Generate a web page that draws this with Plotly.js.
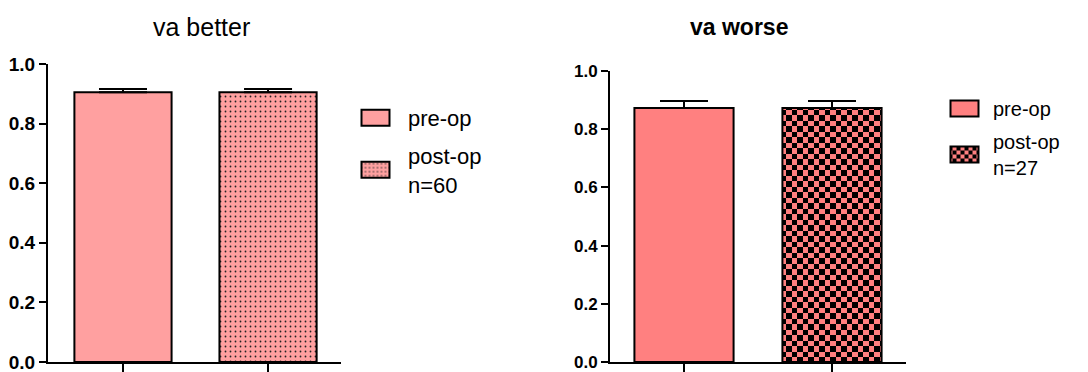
<!DOCTYPE html>
<html>
<head>
<meta charset="utf-8">
<script src="https://cdn.plot.ly/plotly-3.0.1.min.js"></script>
<style>html,body{margin:0;padding:0;background:#fff;}#chart{width:1088px;height:372px;}</style>
</head>
<body>
<div id="chart"></div>
<script>
// ---- data ----
const categories = ['pre-op', 'post-op'];
const legendNamesBetter = ['pre-op', 'post-op<br>n=60'];
const legendNamesWorse = ['pre-op', 'post-op<br>n=27'];
const betterMeans = [0.905, 0.905];
const betterErr = [0.011, 0.011];
const worseMeans = [0.873, 0.873];
const worseErr = [0.024, 0.024];
const yTicks = [0, 0.2, 0.4, 0.6, 0.8, 1.0];
const titles = ['va better', 'va worse'];

const colBetter = '#FFA0A0';
const colWorse = '#FF8080';
const FONT = 'Liberation Sans, Arial, sans-serif';

function barTrace(i, means, errs, names, color, pattern, xa, ya, legend, grp) {
  return {
    type: 'bar',
    x: [categories[i]],
    y: [means[i]],
    name: names[i],
    legendgroup: grp,
    xaxis: xa, yaxis: ya, legend: legend,
    width: 0.67,
    marker: {color: color, line: {color: '#000', width: 2}, pattern: pattern},
    error_y: {type: 'data', array: [errs[i]], arrayminus: [0], symmetric: false,
              color: '#000', thickness: 2, width: 24},
    hoverinfo: 'skip'
  };
}

const noPat = {shape: ''};
const dotPat = {shape: '.', fgcolor: '#222', bgcolor: colBetter, size: 5, solidity: 0.1, fillmode: 'replace'};
const checkPat = {shape: '.', fgcolor: '#000', bgcolor: colWorse, size: 11, solidity: 0.3, fillmode: 'replace'};

const data = [
  barTrace(0, betterMeans, betterErr, legendNamesBetter, colBetter, noPat, 'x', 'y', 'legend', 'a'),
  barTrace(1, betterMeans, betterErr, legendNamesBetter, colBetter, dotPat, 'x', 'y', 'legend', 'b'),
  barTrace(0, worseMeans, worseErr, legendNamesWorse, colWorse, noPat, 'x2', 'y2', 'legend2', 'c'),
  barTrace(1, worseMeans, worseErr, legendNamesWorse, colWorse, checkPat, 'x2', 'y2', 'legend2', 'd')
];

function xax(domain, range) {
  return {domain: domain, range: range, type: 'category', categoryorder: 'array', categoryarray: categories,
    showticklabels: false, ticks: 'outside', ticklen: 8, tickwidth: 2, tickcolor: '#000',
    showline: true, linecolor: '#000', linewidth: 2, showgrid: false, zeroline: false, fixedrange: true};
}
function yax(domain, fs, anchor) {
  return {domain: domain, range: [0, 1], anchor: anchor, tickvals: yTicks, tickformat: '.1f',
    ticks: 'outside', ticklen: 7, tickwidth: 2, tickcolor: '#000', ticklabeloverflow: 'allow',
    tickfont: {family: FONT, size: fs, color: '#000', weight: 'bold'},
    showline: true, linecolor: '#000', linewidth: 2, showgrid: false, zeroline: false, fixedrange: true};
}

const layout = {
  width: 1088, height: 372,
  margin: {l: 0, r: 0, t: 0, b: 0},
  paper_bgcolor: '#fff', plot_bgcolor: '#fff',
  barmode: 'overlay',
  showlegend: true,
  font: {family: FONT, color: '#000'},
  xaxis: Object.assign(xax([48/1088, 341/1088], [-0.517, 1.503]), {anchor: 'y'}),
  yaxis: yax([10/372, 308/372], 19, 'x'),
  xaxis2: Object.assign(xax([610/1088, 906/1088], [-0.5, 1.5]), {anchor: 'y2'}),
  yaxis2: yax([10/372, 301/372], 17, 'x2'),
  legend: {x: 343/1088, y: 1 - 97/372, xanchor: 'left', yanchor: 'top', bgcolor: 'rgba(0,0,0,0)',
    font: {family: FONT, size: 22, color: '#000'}, itemwidth: 55, tracegroupgap: 6},
  legend2: {x: 936/1088, y: 1 - 89/372, xanchor: 'left', yanchor: 'top', bgcolor: 'rgba(0,0,0,0)',
    font: {family: FONT, size: 20, color: '#000'}, itemwidth: 47, tracegroupgap: 4},
  annotations: [
    {text: titles[0], xref: 'paper', yref: 'paper', x: 201/1088, y: 1 - 27/372, xanchor: 'center', yanchor: 'middle',
      showarrow: false, font: {family: FONT, size: 25, color: '#000'}},
    {text: '<b>' + titles[1] + '</b>', xref: 'paper', yref: 'paper', x: 739/1088, y: 1 - 27/372, xanchor: 'center', yanchor: 'middle',
      showarrow: false, font: {family: FONT, size: 23, color: '#000'}}
  ]
};

function restyleSvg() {
  const NS = 'http://www.w3.org/2000/svg';
  document.querySelectorAll('#chart pattern').forEach(function (p) {
    const c = p.querySelector('circle');
    if (c && parseFloat(c.getAttribute('r')) > 2) {
      const s = parseFloat(p.getAttribute('width')) || 11, h = s / 2;
      while (p.firstChild) p.removeChild(p.firstChild);
      const rects = [[0, 0, s, s, colWorse], [0, 0, h, h, '#000'], [h, h, h, h, '#000']];
      rects.forEach(function (r) {
        const el = document.createElementNS(NS, 'rect');
        el.setAttribute('x', r[0]); el.setAttribute('y', r[1]);
        el.setAttribute('width', r[2]); el.setAttribute('height', r[3]);
        el.setAttribute('fill', r[4]);
        el.setAttribute('shape-rendering', 'crispEdges');
        p.appendChild(el);
      });
    }
  });
  document.querySelectorAll('#chart .legendpoints path').forEach(function (p) {
    p.setAttribute('d', 'M14,8H-14V-8H14Z');
  });
}

Plotly.newPlot('chart', data, layout, {displayModeBar: false, staticPlot: true}).then(restyleSvg);
</script>
</body>
</html>
